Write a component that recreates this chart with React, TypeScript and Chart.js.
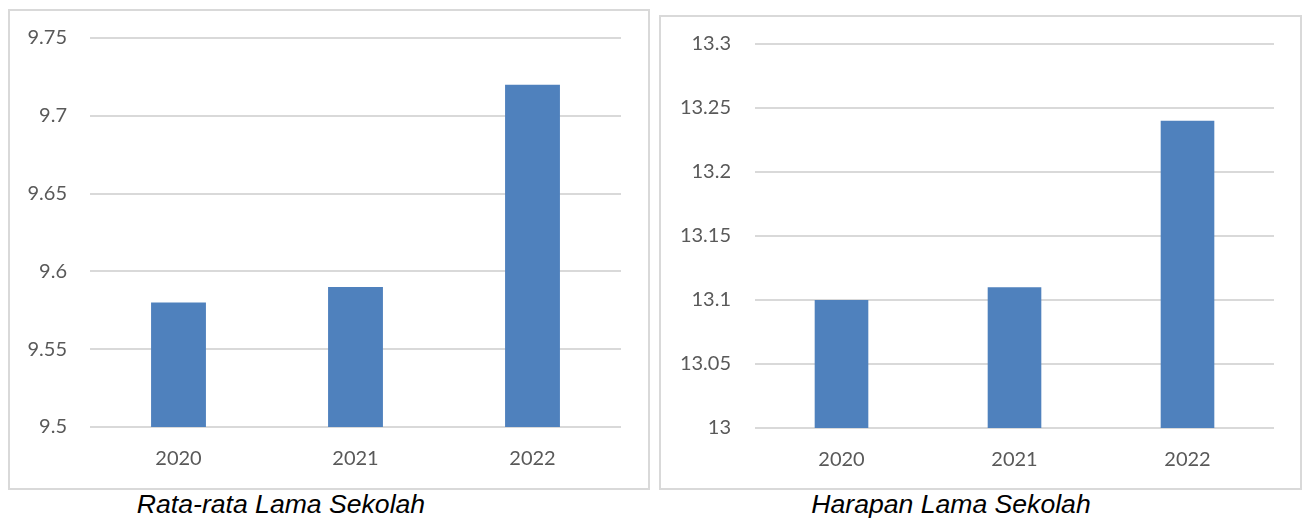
import React, { useEffect, useRef } from "react";
import { Chart, registerables } from "chart.js";

Chart.register(...registerables);

const categories = ["2020", "2021", "2022"];
const rlsValues = [9.58, 9.59, 9.72];
const hlsValues = [13.1, 13.11, 13.24];
const rlsTickRange = [9.5, 9.75];
const hlsTickRange = [13.0, 13.3];
const tickStep = 0.05;
const rlsCaption = "Rata-rata Lama Sekolah";
const hlsCaption = "Harapan Lama Sekolah";

const BAR_COLOR = "#4f81bd";
const GRID_COLOR = "#d9d9d9";
const TICK_COLOR = "#595959";
const TICK_FONT = "Lato, 'Open Sans', sans-serif";

type ChartProps = {
  values: number[];
  range: number[];
  yWidth: number;
  yPad: number;
  padding: { top: number; right: number; bottom: number; left: number };
};

function BarChart({ values, range, yWidth, yPad, padding }: ChartProps) {
  const ref = useRef<HTMLCanvasElement | null>(null);
  useEffect(() => {
    if (!ref.current) return;
    const chart = new Chart(ref.current, {
      type: "bar",
      data: {
        labels: categories,
        datasets: [
          {
            data: values,
            backgroundColor: BAR_COLOR,
            borderWidth: 0,
            barPercentage: 0.31,
            categoryPercentage: 1,
          },
        ],
      },
      options: {
        animation: false,
        responsive: true,
        maintainAspectRatio: false,
        layout: { padding },
        plugins: {
          legend: { display: false },
          tooltip: { enabled: false },
          title: { display: false },
        },
        scales: {
          x: {
            grid: { display: false, drawTicks: false },
            border: { display: false },
            ticks: {
              color: TICK_COLOR,
              font: { family: TICK_FONT, size: 20 },
              padding: 20,
              maxRotation: 0,
            },
            afterFit: (s: any) => {
              s.height = 50;
            },
          },
          y: {
            min: range[0],
            max: range[1],
            grid: { color: GRID_COLOR, lineWidth: 2, drawTicks: false },
            border: { display: false },
            ticks: {
              stepSize: tickStep,
              color: TICK_COLOR,
              font: { family: TICK_FONT, size: 20 },
              padding: yPad,
              callback: (v: any) => String(Number(Number(v).toFixed(2))),
            },
            afterFit: (s: any) => {
              s.width = yWidth;
              s.paddingTop = 0;
              s.paddingBottom = 0;
            },
          },
        },
      },
    });
    return () => chart.destroy();
  }, []);
  return <canvas ref={ref} />;
}

const boxStyle = (left: number, top: number, width: number, height: number): React.CSSProperties => ({
  position: "absolute",
  left,
  top,
  width,
  height,
  boxSizing: "border-box",
  border: `2px solid ${GRID_COLOR}`,
  background: "#fff",
});

const captionStyle = (left: number, width: number): React.CSSProperties => ({
  position: "absolute",
  left,
  width,
  top: 490,
  height: 29,
  lineHeight: "29px",
  textAlign: "center",
  fontFamily: "'Liberation Sans', Arial, sans-serif",
  fontStyle: "italic",
  fontSize: 26.6,
  color: "#000",
  whiteSpace: "nowrap",
});

export default function App() {
  return (
    <div style={{ position: "absolute", left: 0, top: 0, width: 1303, height: 519, background: "#fff", overflow: "hidden" }}>
      <div style={boxStyle(8, 9, 642, 481)}>
        <div style={{ position: "relative", width: 638, height: 477 }}>
          <BarChart
            values={rlsValues}
            range={rlsTickRange}
            yWidth={80}
            yPad={23}
            padding={{ top: 27, right: 27, bottom: 11, left: 0 }}
          />
        </div>
      </div>
      <div style={boxStyle(659, 15, 643, 475)}>
        <div style={{ position: "relative", width: 639, height: 471 }}>
          <BarChart
            values={hlsValues}
            range={hlsTickRange}
            yWidth={94}
            yPad={24}
            padding={{ top: 27, right: 26, bottom: 10, left: 0 }}
          />
        </div>
      </div>
      <div style={captionStyle(81, 400)}>{rlsCaption}</div>
      <div style={captionStyle(751, 400)}>{hlsCaption}</div>
    </div>
  );
}
